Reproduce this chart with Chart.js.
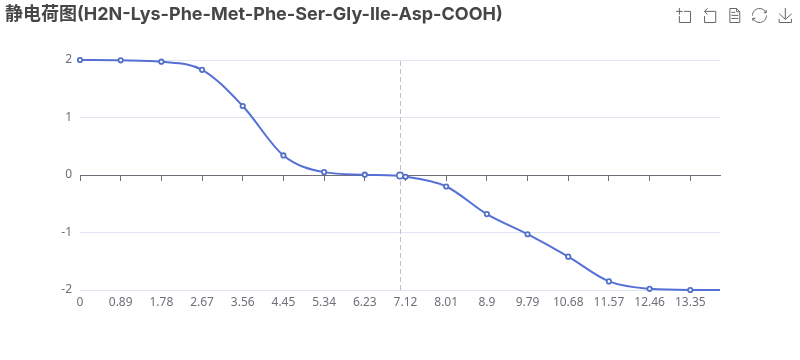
<!DOCTYPE html>
<html><head><meta charset="utf-8">
<style>
html,body{margin:0;padding:0;background:#fff;overflow:hidden}
#w{position:relative;width:800px;height:360px}
canvas{display:block}
svg.i{position:absolute;top:8px;width:15px;height:15px;overflow:visible}
svg.i path{fill:none;stroke:#666;stroke-width:1;vector-effect:non-scaling-stroke}
</style>
<script src="https://cdn.jsdelivr.net/npm/chart.js@4"></script>
</head><body>
<div id="w"><canvas id="c" width="800" height="360"></canvas>
<svg class="i" style="left:676px" viewBox="0 0 60 60"><path d="M0,13.5h26.9 M13.5,26.9V0 M32.1,13.5H58V58H13.5 V32.1"/></svg>
<svg class="i" style="left:702px" viewBox="0 0 60 60"><path d="M22,1.4L9.9,13.5l12.3,12.3 M10.3,13.5H54.9v44.6 H10.3v-26"/></svg>
<svg class="i" style="left:727px" viewBox="0 0 60 60"><path d="M17.5,17.3H33 M45.4,29.5h-28 M11.5,2v56H51V14.8L38.4,2H11.5z M38.4,2.2v12.7H51 M45.4,41.7h-28"/></svg>
<svg class="i" style="left:752px" viewBox="0 0 60 60"><path d="M47,18.9h9.8V8.7 M56.3,20.1 C52.1,9,40.5,0.6,26.8,2.1C12.6,3.7,1.6,16.2,2.1,30.6 M13,41.1H3.1v10.2 M3.7,39.9c4.2,11.1,15.8,19.5,29.5,18 c14.2-1.6,25.2-14.1,24.7-28.5"/></svg>
<svg class="i" style="left:778px" viewBox="0 0 60 60"><path d="M4.7,22.9L29.3,45.5L54.7,23.4M4.6,43.6L4.6,58L53.8,58L53.8,43.6M29.2,45.1L29.2,0"/></svg>
</div>
<script>
const titleText = "静电荷图(H2N-Lys-Phe-Met-Phe-Ser-Gly-Ile-Asp-COOH)";
const xTicks = [0,0.89,1.78,2.67,3.56,4.45,5.34,6.23,7.12,8.01,8.9,9.79,10.68,11.57,12.46,13.35];
const yTicks = [-2,-1,0,1,2];
const xValues = [0,0.89,1.78,2.67,3.56,4.45,5.34,6.23,7.12,8.01,8.9,9.79,10.68,11.57,12.46,13.35,14];
const charge = [2,1.995,1.97,1.83,1.2,0.34,0.05,0.005,-0.03,-0.2,-0.68,-1.03,-1.42,-1.85,-1.98,-2,-2];
const isoPointX = [7];
const isoPointY = [-0.01];
const isoLineX = [7.01,7.01];
const isoLineY = [-2,2];

const font = {family:"'Noto Sans','Noto Sans CJK SC',sans-serif",size:12};
const setTicks = s => { s.ticks = xTicks.map(v=>({value:v})); };
new Chart(document.getElementById('c'),{
  type:'scatter',
  data:{datasets:[
    {data:isoLineX.map((x,i)=>({x,y:isoLineY[i]})),showLine:true,pointRadius:0,borderColor:'#b8bdd2',borderWidth:1,borderDash:[5,3],order:3},
    {data:xValues.map((x,i)=>({x,y:charge[i]})),showLine:true,borderColor:'#5470d6',borderWidth:2,clip:false,
     cubicInterpolationMode:'monotone',
     pointRadius:c=>c.dataIndex===xValues.length-1?0:2.2,
     pointBorderWidth:1.8,pointBorderColor:'#5470c6',pointBackgroundColor:'#fff',order:2},
    {data:isoPointX.map((x,i)=>({x,y:isoPointY[i]})),clip:false,pointRadius:3.2,pointBorderWidth:1.6,pointBorderColor:'#5470c6',pointBackgroundColor:'#fff',order:1}
  ]},
  options:{
    responsive:false,animation:false,
    layout:{padding:{left:5,right:80,top:0,bottom:0}},
    plugins:{legend:{display:false},tooltip:{enabled:false},
      title:{display:true,text:titleText,align:'start',color:'#464646',
        font:{family:"Inter,'Noto Sans CJK SC',sans-serif",size:18,weight:'bold',lineHeight:1.2},
        padding:{top:4,bottom:34.4}}},
    scales:{
      x:{type:'linear',min:0,max:14,position:'bottom',
        afterBuildTicks:setTicks,
        afterFit:s=>{s.height=70;},
        border:{display:false},grid:{display:false,drawTicks:false},
        ticks:{color:'#6e7079',font,padding:5,autoSkip:false,maxRotation:0,callback:v=>String(v)}},
      x2:{type:'linear',min:0,max:14,position:{y:0},
        afterBuildTicks:setTicks,
        border:{display:true,color:'#6e7079',width:1},
        grid:{drawOnChartArea:false,drawTicks:true,tickLength:5,color:'#6e7079'},
        ticks:{display:false}},
      y:{type:'linear',min:-2,max:2,
        afterBuildTicks:s=>{s.ticks=yTicks.map(v=>({value:v}));},
        afterFit:s=>{s.width=75;},
        border:{display:false},
        grid:{color:'#e0e6f1',drawTicks:false},
        ticks:{color:'#6e7079',font,padding:8,callback:v=>String(v)}}
    }
  }
});
</script>
</body></html>
